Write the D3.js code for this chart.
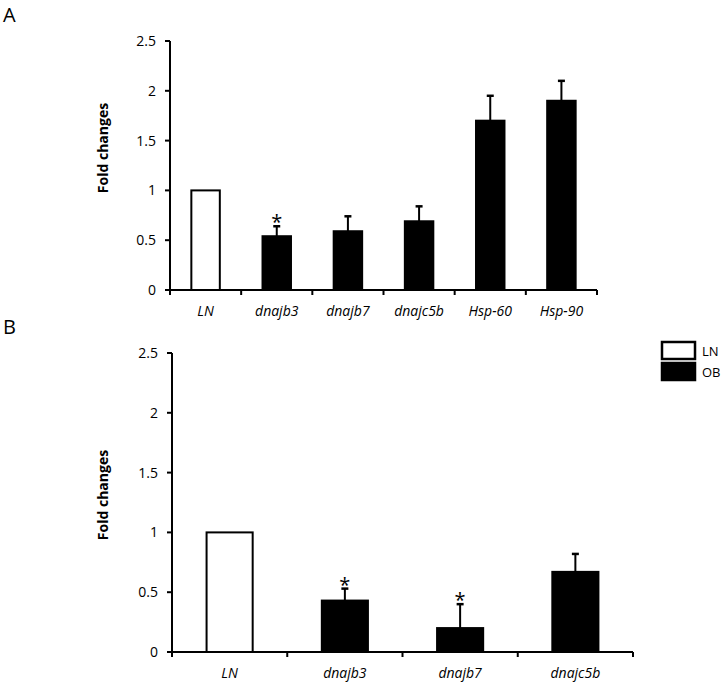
<!DOCTYPE html>
<html>
<head>
<meta charset="utf-8">
<script src="https://cdn.jsdelivr.net/npm/d3@7"></script>
<style>
  body { margin: 0; background: #fff; }
  svg { display: block; font-family: "Open Sans", sans-serif; }
</style>
</head>
<body>
<svg id="chart" width="722" height="684"></svg>
<script>
// values
const genesA = ['LN', 'dnajb3', 'dnajb7', 'dnajc5b', 'Hsp-60', 'Hsp-90'];
const meanA = [1, 0.54, 0.59, 0.69, 1.70, 1.90];
const errA = [0, 0.10, 0.15, 0.15, 0.25, 0.20];
const sigA = [false, true, false, false, false, false];

const genesB = ['LN', 'dnajb3', 'dnajb7', 'dnajc5b'];
const meanB = [1, 0.43, 0.20, 0.67];
const errB = [0, 0.10, 0.20, 0.15];
const sigB = [false, true, true, false];

const yTicks = [0, 0.5, 1, 1.5, 2, 2.5];
const legendItems = ['LN', 'OB'];

const svg = d3.select('#chart');

function panel(opt) {
  const { letter, genes, means, errs, sig, x0, x1, yTop, yBot, letterY, labelY } = opt;
  const g = svg.append('g');

  const x = d3.scaleBand().domain(genes).range([x0, x1]).paddingInner(0.6).paddingOuter(0.3);
  const y = d3.scaleLinear().domain([0, 2.5]).range([yBot, yTop]);

  g.append('text')
    .attr('x', 3).attr('y', letterY)
    .attr('font-size', 20)
    .text(letter);

  // y axis
  g.append('line')
    .attr('x1', x0).attr('x2', x0)
    .attr('y1', y(2.5)).attr('y2', y(0))
    .attr('stroke', '#000').attr('stroke-width', 2);
  yTicks.forEach(t => {
    g.append('line')
      .attr('x1', x0 - 5).attr('x2', x0)
      .attr('y1', y(t)).attr('y2', y(t))
      .attr('stroke', '#000').attr('stroke-width', 2);
    g.append('text')
      .attr('x', x0 - 14).attr('y', y(t))
      .attr('dy', '0.35em')
      .attr('text-anchor', 'end')
      .attr('font-size', 14)
      .text(String(t));
  });

  g.append('text')
    .attr('transform', `translate(103,${labelY}) rotate(-90)`)
    .attr('text-anchor', 'middle')
    .attr('dy', '0.35em')
    .attr('font-size', 14)
    .attr('font-weight', 700)
    .text('Fold changes');

  // bars
  genes.forEach((gn, i) => {
    const bx = x(gn), bw = x.bandwidth();
    const cx = bx + bw / 2;
    if (errs[i] > 0) {
      const ey = y(means[i] + errs[i]);
      g.append('line')
        .attr('x1', cx).attr('x2', cx)
        .attr('y1', y(means[i])).attr('y2', ey)
        .attr('stroke', '#000').attr('stroke-width', 2);
      g.append('line')
        .attr('x1', cx - 3.5).attr('x2', cx + 3.5)
        .attr('y1', ey).attr('y2', ey)
        .attr('stroke', '#000').attr('stroke-width', 2.5);
      if (sig[i]) {
        g.append('text')
          .attr('x', cx).attr('y', ey + 3)
          .attr('text-anchor', 'middle')
          .attr('font-size', 20)
          .text('*');
      }
    }
    g.append('rect')
      .attr('x', bx).attr('y', y(means[i]))
      .attr('width', bw).attr('height', y(0) - y(means[i]))
      .attr('fill', i === 0 ? '#fff' : '#000')
      .attr('stroke', '#000').attr('stroke-width', 2);

    g.append('text')
      .attr('x', cx).attr('y', yBot + 21)
      .attr('dy', '0.35em')
      .attr('text-anchor', 'middle')
      .attr('font-size', 14)
      .attr('font-style', 'italic')
      .text(gn);
  });

  // x axis with ticks at band edges
  g.append('line')
    .attr('x1', x0).attr('x2', x1)
    .attr('y1', y(0)).attr('y2', y(0))
    .attr('stroke', '#000').attr('stroke-width', 2);
  const step = x.step();
  d3.range(genes.length + 1).forEach(k => {
    const tx = x0 + k * step;
    g.append('line')
      .attr('x1', tx).attr('x2', tx)
      .attr('y1', y(0)).attr('y2', y(0) + 5)
      .attr('stroke', '#000').attr('stroke-width', 2);
  });
  return g;
}

panel({ letter: 'A', genes: genesA, means: meanA, errs: errA, sig: sigA,
  x0: 170, x1: 597, yTop: 41, yBot: 290, letterY: 22, labelY: 148 });
panel({ letter: 'B', genes: genesB, means: meanB, errs: errB, sig: sigB,
  x0: 172, x1: 633, yTop: 353, yBot: 652, letterY: 334, labelY: 495 });

// legend
const lg = svg.append('g');
legendItems.forEach((name, i) => {
  lg.append('rect')
    .attr('x', 662).attr('y', 342 + i * 21)
    .attr('width', 33).attr('height', 17)
    .attr('fill', i === 0 ? '#fff' : '#000')
    .attr('stroke', '#000').attr('stroke-width', 2.5);
  lg.append('text')
    .attr('x', 702).attr('y', 342 + i * 21 + 9)
    .attr('dy', '0.35em')
    .attr('font-size', 13)
    .text(name);
});
</script>
</body>
</html>
